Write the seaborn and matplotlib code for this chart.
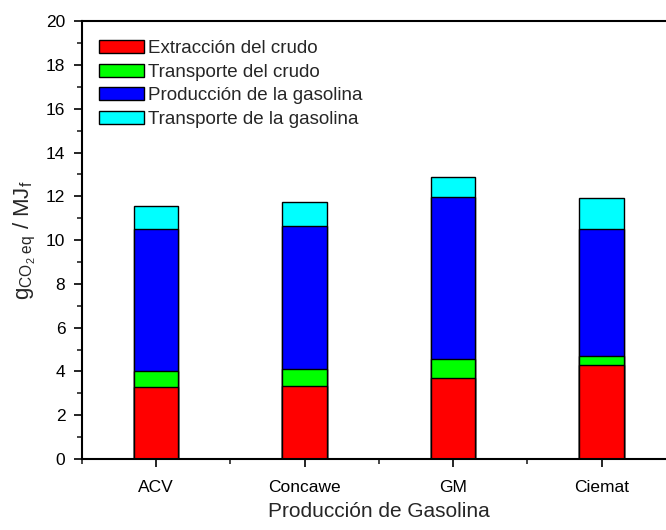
import pandas as pd
import matplotlib
matplotlib.use('Agg')
import matplotlib.pyplot as plt
from matplotlib.patches import Patch
from matplotlib.ticker import MultipleLocator, FixedLocator
import seaborn as sns

# ── Data ──────────────────────────────────────────────────────────────────────
sources = ['ACV', 'Concawe', 'GM', 'Ciemat']
stages = ['Extracción del crudo', 'Transporte del crudo',
          'Producción de la gasolina', 'Transporte de la gasolina']
extraccion = [3.30, 3.33, 3.71, 4.29]
transporte_crudo = [0.73, 0.79, 0.86, 0.41]
produccion = [6.49, 6.52, 7.41, 5.82]
transporte_gasolina = [1.06, 1.08, 0.88, 1.40]
colors = ['#ff0000', '#00ff00', '#0000ff', '#00ffff']

sns.set_style('ticks')
plt.rcParams['font.family'] = ['Liberation Sans', 'DejaVu Sans']
plt.rcParams['mathtext.fontset'] = 'custom'
plt.rcParams['mathtext.rm'] = 'Liberation Sans'
plt.rcParams['mathtext.it'] = 'Liberation Sans'

df = pd.DataFrame({
    'source': sources,
    stages[0]: extraccion,
    stages[1]: transporte_crudo,
    stages[2]: produccion,
    stages[3]: transporte_gasolina,
})
# cumulative tops, drawn from the tallest layer down
cum = df[stages].cumsum(axis=1)

fig = plt.figure(figsize=(6.66, 5.30), dpi=100)
ax = fig.add_axes([0.123, 0.134, 0.892, 0.826])

for stage, color in reversed(list(zip(stages, colors))):
    sns.barplot(x=df['source'], y=cum[stage], color=color, width=0.30,
                edgecolor='black', linewidth=1.0, saturation=1, ax=ax)

ax.set_xlim(-0.5, 3.5)
ax.set_ylim(0, 20)
ax.yaxis.set_major_locator(MultipleLocator(2))
ax.yaxis.set_minor_locator(MultipleLocator(1))
ax.xaxis.set_minor_locator(FixedLocator([-0.5, 0.5, 1.5, 2.5]))
ax.tick_params(axis='both', which='major', direction='out', length=6, width=1.2,
               labelsize=12.5, colors='black')
ax.tick_params(axis='x', which='major', pad=9)
ax.tick_params(axis='y', which='major', pad=6)
ax.tick_params(axis='both', which='minor', direction='out', length=3.5, width=1.2)

for side in ['left', 'bottom', 'top', 'right']:
    ax.spines[side].set_visible(True)
    ax.spines[side].set_linewidth(1.5)
    ax.spines[side].set_color('black')

ax.set_xlabel('Producción de Gasolina', fontsize=15, labelpad=5)
ax.set_ylabel(r'g$_{\mathrm{CO_{2}\ eq}}$ / MJ$_{\mathrm{f}}$', fontsize=16, labelpad=6)

handles = [Patch(facecolor=c, edgecolor='black', linewidth=1.0) for c in colors]
ax.legend(handles, stages, loc='upper left', frameon=False, fontsize=13.5,
          handlelength=2.4, handleheight=0.7, handletextpad=0.25,
          labelspacing=0.34, borderaxespad=0.5, bbox_to_anchor=(0.0, 0.995))

fig.savefig('out.png', dpi=100)
